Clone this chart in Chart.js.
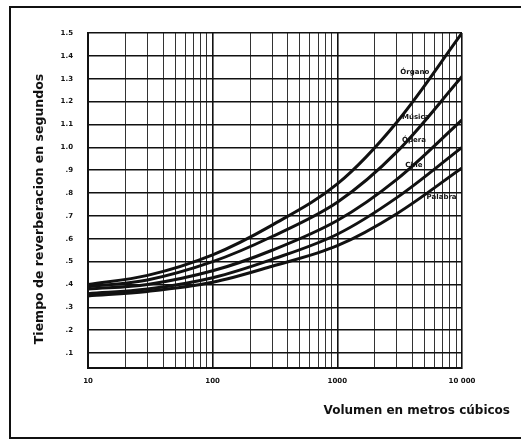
<!DOCTYPE html>
<html>
<head>
<meta charset="utf-8">
<script src="https://cdn.jsdelivr.net/npm/chart.js@4.4.1/dist/chart.umd.min.js"></script>
<style>
  body { margin: 0; background: #fff; }
  #wrap { position: relative; width: 521px; height: 440px; }
  #frame { position: absolute; left: 9px; top: 6px; width: 530px; height: 429px;
           border-left: 2px solid #111; border-top: 2px solid #111; border-bottom: 2px solid #111; }
</style>
</head>
<body>
<div id="wrap">
  <div id="frame"></div>
  <canvas id="rtChart" width="521" height="440"></canvas>
</div>
<script>
// volumes (m3) where the curves were read
const volumes = [10, 30, 100, 300, 1000, 3000, 10000];

// reverberation time (s), top to bottom
const curve1 = [0.40, 0.44, 0.53, 0.66, 0.84, 1.11, 1.50];
const curve2 = [0.39, 0.42, 0.50, 0.61, 0.76, 0.98, 1.31];
const curve3 = [0.38, 0.40, 0.46, 0.55, 0.68, 0.86, 1.12];
const curve4 = [0.36, 0.38, 0.43, 0.51, 0.62, 0.78, 1.00];
const curve5 = [0.35, 0.37, 0.41, 0.48, 0.57, 0.71, 0.91];

const curveNames = ['Órgano', 'Música', 'Ópera', 'Cine', 'Palabra'];

// grid / tick values
const xGridValues = [10, 20, 30, 40, 50, 60, 70, 80, 90,
                     100, 200, 300, 400, 500, 600, 700, 800, 900,
                     1000, 2000, 3000, 4000, 5000, 6000, 7000, 8000, 9000, 10000];
const xLabelValues = [10, 100, 1000, 10000];
const xLabelTexts = ['10', '100', '1000', '10 000'];

const yTickValues = [0.1, 0.2, 0.3, 0.4, 0.5, 0.6, 0.7, 0.8, 0.9, 1.0, 1.1, 1.2, 1.3, 1.4, 1.5];
const yTickTexts = ['.1', '.2', '.3', '.4', '.5', '.6', '.7', '.8', '.9', '1.0', '1.1', '1.2', '1.3', '1.4', '1.5'];

// where each curve name sits (volume, time)
const nameAnchors = [[3200, 1.33], [3300, 1.13], [3300, 1.03], [3500, 0.92], [5200, 0.78]];

function toPoints(vals) {
  return vals.map((v, i) => ({ x: volumes[i], y: v }));
}

const FONT = '"DejaVu Sans", sans-serif';

const textPlugin = {
  id: 'textPlugin',
  afterDraw(chart) {
    const ctx = chart.ctx;
    const xs = chart.scales.x, ys = chart.scales.y;
    ctx.save();
    ctx.fillStyle = '#111';
    // axis titles
    ctx.font = 'bold 12px ' + FONT;
    ctx.textAlign = 'right';
    ctx.textBaseline = 'middle';
    ctx.fillText('Volumen en metros cúbicos', 510, 411);
    ctx.translate(40, 209);
    ctx.rotate(-Math.PI / 2);
    ctx.textAlign = 'center';
    ctx.font = 'bold 12.5px ' + FONT;
    ctx.fillText('Tiempo de reverberacion en segundos', 0, 0);
    ctx.restore();

    // curve names
    ctx.save();
    ctx.fillStyle = '#111';
    ctx.font = 'bold 7px ' + FONT;
    ctx.textAlign = 'left';
    ctx.textBaseline = 'middle';
    nameAnchors.forEach((a, i) => {
      ctx.fillText(curveNames[i], xs.getPixelForValue(a[0]), ys.getPixelForValue(a[1]));
    });
    ctx.restore();
  }
};

const datasets = [curve1, curve2, curve3, curve4, curve5].map((c, i) => ({
  label: curveNames[i],
  data: toPoints(c),
  borderColor: '#111',
  borderWidth: 3,
  pointRadius: 0,
  fill: false,
  tension: 0.35
}));

new Chart(document.getElementById('rtChart'), {
  type: 'line',
  data: { datasets: datasets },
  plugins: [textPlugin],
  options: {
    responsive: false,
    animation: false,
    layout: { padding: { left: 8, top: 33, right: 59, bottom: 0 } },
    plugins: { legend: { display: false }, tooltip: { enabled: false } },
    scales: {
      x: {
        type: 'logarithmic',
        min: 10,
        max: 10000,
        afterFit(scale) { scale.height = 72; },
        afterBuildTicks(scale) { scale.ticks = xGridValues.map(v => ({ value: v })); },
        grid: {
          color: ctx => (ctx.tick && xLabelValues.includes(ctx.tick.value)) ? '#111' : '#333',
          lineWidth: ctx => (ctx.tick && xLabelValues.includes(ctx.tick.value)) ? 1.6 : 1,
          drawTicks: false
        },
        border: { color: '#111', width: 2 },
        ticks: {
          autoSkip: false,
          maxRotation: 0,
          padding: 9,
          color: '#111',
          font: { family: FONT, size: 7, weight: 'bold' },
          callback: function (value) {
            const k = xLabelValues.indexOf(value);
            return k >= 0 ? xLabelTexts[k] : '';
          }
        }
      },
      y: {
        type: 'linear',
        min: 0.035,
        max: 1.5,
        afterFit(scale) { scale.width = 80; },
        afterBuildTicks(scale) { scale.ticks = yTickValues.map(v => ({ value: v })); },
        grid: { color: '#111', lineWidth: 1.6, drawTicks: false },
        border: { color: '#111', width: 2 },
        ticks: {
          autoSkip: false,
          padding: 15,
          color: '#111',
          font: { family: FONT, size: 7, weight: 'bold' },
          callback: function (value) {
            const k = yTickValues.findIndex(v => Math.abs(v - value) < 1e-6);
            return k >= 0 ? yTickTexts[k] : '';
          }
        }
      }
    }
  }
});
</script>
</body>
</html>
